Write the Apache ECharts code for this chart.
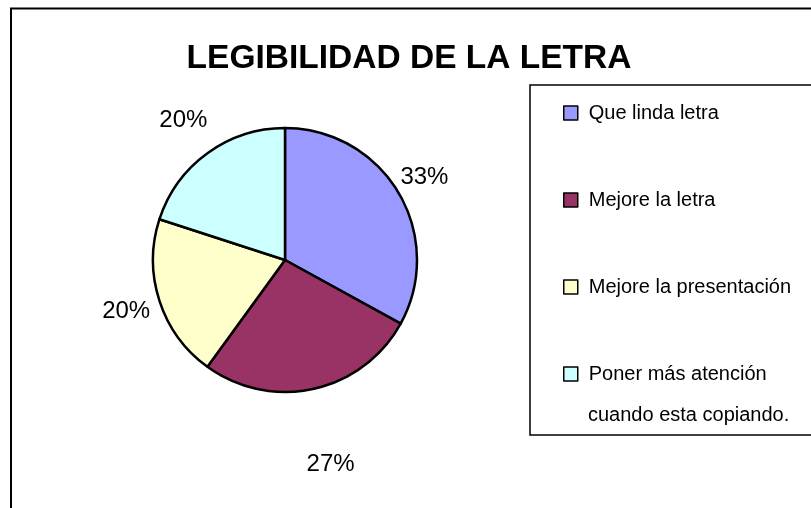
<!DOCTYPE html>
<html>
<head>
<meta charset="utf-8">
<script src="https://cdn.jsdelivr.net/npm/echarts@6/dist/echarts.min.js"></script>
<style>
  html, body { margin: 0; padding: 0; background: #fff; }
  #legibilidad-chart { width: 811px; height: 508px; }
</style>
</head>
<body>
<div id="legibilidad-chart"></div>
<script>
// datos
const categorias = [
  "Que linda letra",
  "Mejore la letra",
  "Mejore la presentación",
  "Poner más atención\ncuando esta copiando."
];
const porcentajes = [33, 27, 20, 20];
const colores = ["#9999FF", "#993366", "#FFFFCC", "#CCFFFF"];
// distancia de cada etiqueta fuera del borde
const distEtiqueta = [30, 77, 35, 41];

const fuente = "'Liberation Sans', Arial, sans-serif";

const chart = echarts.init(document.getElementById("legibilidad-chart"));

const pieData = categorias.map((name, i) => ({
  name: name,
  value: porcentajes[i],
  itemStyle: { color: colores[i] },
  labelLine: { length: distEtiqueta[i], length2: 0 }
}));

const option = {
  backgroundColor: "#fff",
  animation: false,
  title: {
    text: "LEGIBILIDAD DE LA LETRA",
    left: 404,
    textAlign: "center",
    top: 37,
    textStyle: { fontFamily: fuente, fontSize: 33.5, fontWeight: "bold", color: "#000" }
  },
  legend: {
    orient: "vertical",
    left: 530,
    top: 85,
    padding: [18, 60, 51, 33],
    itemWidth: 14,
    itemHeight: 14,
    itemGap: 67,
    icon: "rect",
    borderColor: "#000",
    borderWidth: 1.5,
    backgroundColor: "#fff",
    formatter: name => name.split("\n")[0],
    textStyle: { fontFamily: fuente, fontSize: 20, color: "#000", lineHeight: 20, padding: [0, 0, 0, 6] },
    itemStyle: { borderColor: "#000", borderWidth: 1.5 },
    data: categorias
  },
  graphic: [
    {
      type: "rect",
      shape: { x: 11, y: 8.5, width: 900, height: 600 },
      style: { fill: "none", stroke: "#000", lineWidth: 2 },
      silent: true
    },
    {
      type: "text",
      left: 588,
      top: 405,
      z: 100,
      style: { text: categorias[3].split("\n")[1], font: "20px " + fuente, fill: "#000" },
      silent: true
    }
  ],
  series: [
    {
      type: "pie",
      center: [285, 260],
      radius: 132,
      startAngle: 90,
      clockwise: true,
      avoidLabelOverlap: false,
      itemStyle: { borderColor: "#000", borderWidth: 2.5 },
      label: {
        show: true,
        position: "outside",
        formatter: "{c}%",
        fontFamily: fuente,
        fontSize: 24,
        color: "#000",
        distanceToLabelLine: 0
      },
      labelLine: { show: false },
      labelLayout: () => ({ align: "center", verticalAlign: "middle" }),
      emphasis: { disabled: true },
      data: pieData
    }
  ]
};

chart.setOption(option);
</script>
</body>
</html>
